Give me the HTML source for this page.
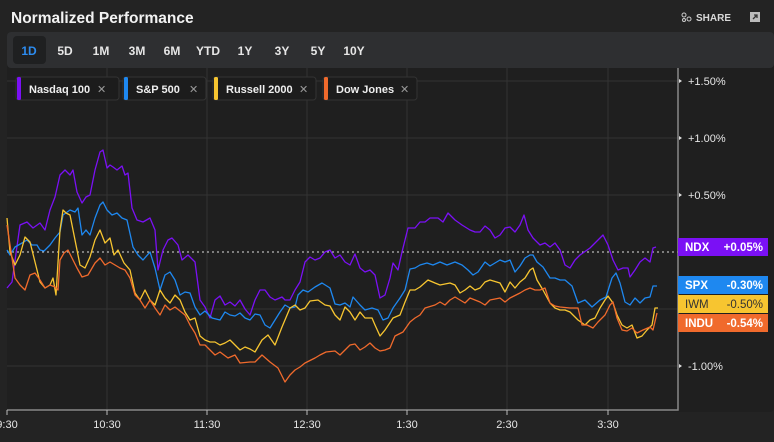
<!DOCTYPE html>
<html><head><meta charset="utf-8"><style>
body{margin:0;background:#232323;width:774px;height:437px;overflow:hidden;font-family:"Liberation Sans",sans-serif;}
</style></head><body>
<svg width="774" height="437" xmlns="http://www.w3.org/2000/svg" font-family="Liberation Sans, sans-serif">
<rect width="774" height="437" fill="#232323"/>
<text x="11" y="23" fill="#f2f2f2" font-size="15.5" font-weight="bold">Normalized Performance</text>
<g fill="#d8d8d8" font-size="10" font-weight="bold"><text x="696" y="21">SHARE</text></g>
<circle cx="684" cy="15" r="2" fill="none" stroke="#ccc"/><circle cx="689" cy="19" r="2" fill="none" stroke="#ccc"/><circle cx="684" cy="20" r="1.5" fill="none" stroke="#ccc"/>
<rect x="750" y="12" width="10" height="10" fill="#bbb"/><path d="M753 19 L757 15 M754 15 H757 V18" stroke="#333" stroke-width="1.3" fill="none"/>
<rect x="7" y="32" width="767" height="380" rx="4" fill="#1f1f1f"/>
<rect x="7" y="32" width="767" height="36" rx="4" fill="#2e2f31"/>
<rect x="13" y="36" width="33" height="28" rx="4" fill="#1f2021"/>
<g font-size="12" font-weight="bold" fill="#e6e6e6" text-anchor="middle">
<text x="29" y="55" fill="#2d8cf0">1D</text><text x="65" y="55">5D</text><text x="101" y="55">1M</text><text x="137" y="55">3M</text><text x="172" y="55">6M</text><text x="208" y="55">YTD</text><text x="245" y="55">1Y</text><text x="282" y="55">3Y</text><text x="318" y="55">5Y</text><text x="354" y="55">10Y</text>
</g>
<g stroke="#333" stroke-width="1">
<line x1="7" y1="81" x2="678" y2="81"/><line x1="7" y1="138" x2="678" y2="138"/><line x1="7" y1="195" x2="678" y2="195"/><line x1="7" y1="309" x2="678" y2="309"/><line x1="7" y1="366" x2="678" y2="366"/>
<line x1="107" y1="68" x2="107" y2="410"/><line x1="207" y1="68" x2="207" y2="410"/><line x1="307" y1="68" x2="307" y2="410"/><line x1="407" y1="68" x2="407" y2="410"/><line x1="507" y1="68" x2="507" y2="410"/><line x1="608" y1="68" x2="608" y2="410"/>
</g>
<line x1="7" y1="252" x2="678" y2="252" stroke="#ddd" stroke-dasharray="2,3"/>
<g fill="none" stroke-width="1.3" stroke-linejoin="round">
<polyline stroke="#7b10f5" points="7,288 12,282 20,225 27,222 33,228 40,223 45,230 50,210 55,197 60,175 65,170 70,175 73,170 77,192 82,203 86,197 90,195 95,170 100,152 103,150 107,168 110,165 113,167 117,170 122,166 125,175 128,173 132,208 137,220 143,222 150,218 155,230 158,270 163,250 168,240 172,238 178,245 182,260 188,255 195,262 200,300 205,307 210,318 215,300 220,296 225,305 230,302 235,306 240,300 245,309 250,315 255,300 260,290 265,290 270,297 275,300 282,297 285,300 290,300 295,290 300,282 305,262 310,257 315,260 320,258 325,252 330,250 335,258 340,255 345,262 350,265 355,254 360,268 365,272 370,270 375,275 380,298 385,295 390,278 393,263 398,270 402,252 408,228 415,228 420,222 425,222 430,218 438,218 443,222 448,213 455,220 462,225 470,230 475,232 480,232 485,226 490,230 495,238 500,235 505,228 510,227 515,232 520,225 524,215 528,230 533,238 540,245 545,243 550,247 555,243 560,250 565,265 570,268 575,260 580,255 590,248 596,242 600,238 603,235 608,245 613,260 618,270 623,268 628,268 630,277 635,270 640,262 645,258 650,262 653,248 656,247"/>
<polyline stroke="#1e88f0" points="7,250 10,255 15,247 22,243 27,240 32,245 37,245 40,250 44,251 50,245 55,238 60,232 63,215 70,210 75,212 78,208 82,235 86,230 90,235 95,218 100,205 103,202 107,210 112,215 117,213 122,218 127,220 133,247 138,255 143,260 150,252 155,268 160,290 165,275 170,272 175,280 180,295 185,292 190,293 195,307 200,315 205,311 212,318 220,320 225,312 230,315 235,316 240,313 245,318 250,320 255,314 260,315 265,325 270,328 280,312 285,305 290,308 295,307 298,295 303,290 308,292 315,287 322,283 330,288 335,304 340,305 345,303 350,307 353,297 360,305 365,310 372,308 378,310 383,320 388,318 393,308 400,298 405,290 410,269 415,268 420,265 427,263 433,265 440,262 447,265 455,262 462,265 468,270 473,275 478,272 485,262 490,266 495,263 500,260 505,262 510,260 515,272 520,266 525,258 530,255 533,255 537,262 543,267 550,278 555,278 560,280 565,280 572,286 578,303 585,300 592,307 600,300 606,297 612,278 616,273 620,283 625,302 630,305 635,298 640,303 645,298 650,297 653,286 657,286"/>
<polyline stroke="#f7c530" points="7,218 10,252 15,265 20,255 25,237 30,242 35,262 40,282 45,288 50,285 53,278 56,295 60,230 63,210 66,213 70,215 75,240 80,265 85,268 90,257 95,240 100,230 105,243 110,238 114,255 118,250 124,263 130,270 135,293 140,300 145,290 150,300 155,305 160,290 165,298 170,303 175,295 180,300 185,312 190,320 195,318 200,336 205,340 210,342 215,342 220,345 225,343 230,340 235,345 240,350 245,347 250,349 255,352 262,340 268,335 275,345 282,327 290,308 295,305 300,310 305,308 310,301 318,300 325,305 330,306 335,315 340,320 345,307 350,312 355,320 360,312 365,318 372,318 375,325 380,336 385,330 393,318 400,315 405,302 410,290 415,290 420,287 428,280 435,283 440,285 450,283 455,285 460,293 465,290 470,286 475,290 480,288 485,282 490,280 500,283 505,292 510,282 515,288 520,282 525,278 530,270 533,268 537,280 543,290 550,303 555,308 560,310 565,310 570,312 578,320 585,325 590,320 595,318 600,308 605,300 608,296 613,303 617,315 622,325 627,328 632,325 637,338 642,336 647,330 652,325 655,308 658,308"/>
<polyline stroke="#f06a2c" points="7,225 12,258 15,278 20,285 25,290 30,275 35,273 40,280 45,288 50,285 55,287 58,290 60,260 64,253 68,250 72,258 77,268 82,277 88,275 95,263 100,258 105,265 110,262 115,265 120,268 125,270 130,278 135,295 140,300 145,308 150,300 155,308 160,315 165,305 170,310 175,307 185,315 190,325 195,333 200,345 205,345 210,350 215,355 220,352 228,358 235,355 240,363 250,362 255,362 262,355 270,362 278,368 285,382 290,375 295,370 300,367 305,363 315,358 320,355 326,352 335,351 340,355 345,350 350,345 355,344 360,350 365,347 370,343 375,348 380,351 385,350 390,348 395,336 403,332 410,322 415,318 420,315 425,308 435,305 440,302 445,305 450,300 455,297 460,300 465,303 470,298 475,300 480,302 485,305 490,300 500,298 505,302 510,298 520,293 525,290 530,288 535,290 540,290 545,288 550,303 555,306 560,307 570,308 578,308 582,325 587,325 593,328 598,322 605,315 610,305 613,302 617,318 622,330 627,331 632,328 637,333 643,330 650,327 653,330 657,313"/>
</g>
<g font-size="11" font-weight="bold" fill="#eee">
<rect x="16" y="77" width="103" height="23" rx="3" fill="#1c1c1c" stroke="#333"/><rect x="17" y="77" width="4" height="23" rx="1.5" fill="#7b10f5"/><text x="29" y="93">Nasdaq 100</text><text x="97" y="93" fill="#999" font-weight="normal">✕</text>
<rect x="123" y="77" width="83" height="23" rx="3" fill="#1c1c1c" stroke="#333"/><rect x="124" y="77" width="4" height="23" rx="1.5" fill="#1e88f0"/><text x="136" y="93">S&amp;P 500</text><text x="189" y="93" fill="#999" font-weight="normal">✕</text>
<rect x="213" y="77" width="103" height="23" rx="3" fill="#1c1c1c" stroke="#333"/><rect x="214" y="77" width="4" height="23" rx="1.5" fill="#f7c530"/><text x="226" y="93">Russell 2000</text><text x="299" y="93" fill="#999" font-weight="normal">✕</text>
<rect x="323" y="77" width="94" height="23" rx="3" fill="#1c1c1c" stroke="#333"/><rect x="324" y="77" width="4" height="23" rx="1.5" fill="#f06a2c"/><text x="336" y="93">Dow Jones</text><text x="400" y="93" fill="#999" font-weight="normal">✕</text>
</g>
<g stroke="#888" stroke-width="1.5" fill="none"><polyline points="7,410 678,410 678,68"/></g>
<g stroke="#bbb"><line x1="107" y1="410" x2="107" y2="415"/><line x1="207" y1="410" x2="207" y2="415"/><line x1="307" y1="410" x2="307" y2="415"/><line x1="407" y1="410" x2="407" y2="415"/><line x1="507" y1="410" x2="507" y2="415"/><line x1="608" y1="410" x2="608" y2="415"/><line x1="7" y1="410" x2="7" y2="415"/></g>
<g font-size="11" fill="#e6e6e6" text-anchor="middle"><text x="7" y="428">9:30</text><text x="107" y="428">10:30</text><text x="207" y="428">11:30</text><text x="307" y="428">12:30</text><text x="407" y="428">1:30</text><text x="507" y="428">2:30</text><text x="608" y="428">3:30</text></g>
<g font-size="11" fill="#e6e6e6"><text x="688" y="85">+1.50%</text><text x="688" y="142">+1.00%</text><text x="688" y="199">+0.50%</text><text x="688" y="370">-1.00%</text></g>
<g fill="#ddd"><path d="M679,79 l3,2 l-3,2z"/><path d="M679,136 l3,2 l-3,2z"/><path d="M679,193 l3,2 l-3,2z"/><path d="M679,364 l3,2 l-3,2z"/></g>
<g font-size="11.5" font-weight="bold">
<rect x="678" y="238" width="90" height="18" fill="#7b10f5"/><text x="685" y="251" fill="#fff">NDX</text><text x="763" y="251" fill="#fff" text-anchor="end">+0.05%</text>
<rect x="678" y="276" width="90" height="18" fill="#1e88f0"/><text x="685" y="289" fill="#fff">SPX</text><text x="763" y="289" fill="#fff" text-anchor="end">-0.30%</text>
<rect x="678" y="295" width="90" height="18" fill="#f7c530"/><text x="685" y="308" fill="#333" font-weight="normal">IWM</text><text x="763" y="308" fill="#333" font-weight="normal" text-anchor="end">-0.50%</text>
<rect x="678" y="314" width="90" height="18" fill="#f06a2c"/><text x="685" y="327" fill="#fff">INDU</text><text x="763" y="327" fill="#fff" text-anchor="end">-0.54%</text>
</g>
</svg>
</body></html>
